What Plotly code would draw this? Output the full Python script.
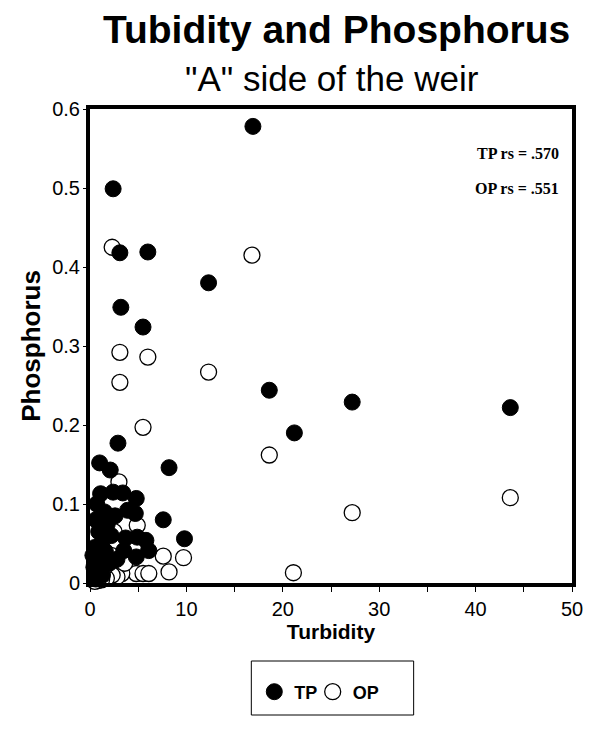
import plotly.graph_objects as go

# TP (total phosphorus) points: turbidity, phosphorus
tp_turbidity = [16.9, 2.4, 3.1, 6.0, 12.3, 3.2, 5.5,
                18.6, 27.2, 21.2, 43.6,
                2.9, 1.0, 2.1, 8.2,
                1.1, 2.4, 3.4, 4.8, 4.7, 3.9,
                7.6, 9.8, 3.7, 4.9, 5.8, 6.1, 4.8, 3.5,
                0.7, 0.6, 0.9, 0.5, 1.2, 0.8, 0.4, 1.5, 1.8, 1.6, 2.2, 2.6, 2.0, 1.3, 0.6, 0.3, 2.8, 1.0]
tp_phosphorus = [0.578, 0.499, 0.418, 0.419, 0.380, 0.349, 0.324,
                 0.244, 0.229, 0.190, 0.222,
                 0.177, 0.152, 0.143, 0.146,
                 0.113, 0.115, 0.114, 0.107, 0.088, 0.092,
                 0.080, 0.056, 0.057, 0.058, 0.054, 0.041, 0.033, 0.041,
                 0.100, 0.080, 0.065, 0.045, 0.050, 0.030, 0.020, 0.090, 0.075, 0.040, 0.060, 0.085, 0.025, 0.010, 0.005, 0.035, 0.030, 0.015]

# OP (orthophosphate) points
op_turbidity = [2.3, 16.8, 3.1, 6.0, 12.3, 3.1,
                18.6, 27.2, 43.6, 21.1,
                5.5, 3.0, 4.9, 7.6, 9.7, 8.2,
                4.8, 5.5, 6.1, 3.3, 2.8, 2.3, 1.7, 1.2, 0.8, 0.5,
                4.5, 2.2, 1.5, 3.6, 2.5, 1.0]
op_phosphorus = [0.425, 0.415, 0.292, 0.286, 0.267, 0.254,
                 0.162, 0.089, 0.108, 0.013,
                 0.197, 0.128, 0.073, 0.034, 0.032, 0.014,
                 0.012, 0.012, 0.012, 0.012, 0.008, 0.010, 0.006, 0.004, 0.003, 0.002,
                 0.045, 0.035, 0.020, 0.025, 0.065, 0.030]

x_ticks = [0, 10, 20, 30, 40, 50]
y_ticks = [0, 0.1, 0.2, 0.3, 0.4, 0.5, 0.6]
y_tick_labels = ["0", "0.1", "0.2", "0.3", "0.4", "0.5", "0.6"]

L, R, T, B = 90, 577, 109, 583
PW, PH = R - L, B - T

def px(xpix):
    return (xpix - L) / PW

def py(ypix):
    return (B - ypix) / PH

fig = go.Figure()
fig.add_trace(go.Scatter(
    x=op_turbidity, y=op_phosphorus, mode="markers", name="OP", legend="legend2",
    marker=dict(size=16, color="white", line=dict(color="black", width=1.3)),
    cliponaxis=False,
))
fig.add_trace(go.Scatter(
    x=tp_turbidity, y=tp_phosphorus, mode="markers", name="TP", legend="legend",
    marker=dict(size=16, color="black", line=dict(color="black", width=1)),
    cliponaxis=False,
))

legend_font = dict(size=18, family="Liberation Sans, Arial", color="black", weight="bold")

fig.update_layout(
    width=595, height=736,
    margin=dict(l=L, r=595 - R, t=T, b=736 - B),
    paper_bgcolor="white", plot_bgcolor="white",
    font=dict(family="Liberation Sans, Arial", color="black", size=20),
    showlegend=True,
    legend=dict(orientation="h", x=px(256), xanchor="left", y=py(692), yanchor="middle",
                font=legend_font, bgcolor="rgba(0,0,0,0)", borderwidth=0, itemwidth=30),
    legend2=dict(orientation="h", x=px(315), xanchor="left", y=py(692), yanchor="middle",
                 font=legend_font, bgcolor="rgba(0,0,0,0)", borderwidth=0, itemwidth=30),
    xaxis=dict(range=[0, 50], tickvals=x_ticks, ticktext=[str(v) for v in x_ticks],
               showgrid=False, zeroline=False, showline=True, linewidth=4, linecolor="black",
               mirror=True, ticks="outside", ticklen=5, tickwidth=1, tickcolor="black",
               minor=dict(dtick=5, ticks="outside", ticklen=5, tickcolor="black"),
               title=dict(text="<b>Turbidity</b>", font=dict(size=21), standoff=2),
               tickfont=dict(size=20)),
    yaxis=dict(range=[0, 0.6], tickvals=y_ticks, ticktext=y_tick_labels,
               showgrid=False, zeroline=False, showline=True, linewidth=4, linecolor="black",
               mirror=True, ticks="outside", ticklen=3, tickwidth=1, tickcolor="black",
               ticklabelstandoff=-1,
               title=dict(text="<b>Phosphorus</b>", font=dict(size=26), standoff=5),
               tickfont=dict(size=20)),
    shapes=[dict(type="rect", xref="paper", yref="paper",
                 x0=px(253), x1=px(417), y0=py(715), y1=py(661),
                 line=dict(color="black", width=1))],
    annotations=[
        dict(text="<b>Tubidity and Phosphorus</b>", xref="paper", yref="paper",
             x=px(339), y=py(30), xanchor="center", yanchor="middle",
             showarrow=False, font=dict(size=39, family="Liberation Sans, Arial")),
        dict(text="\"A\" side of the weir", xref="paper", yref="paper",
             x=px(335), y=py(78), xanchor="center", yanchor="middle",
             showarrow=False, font=dict(size=35, family="Liberation Sans, Arial")),
        dict(text="<b>TP rs = .570</b>", xref="paper", yref="paper",
             x=px(566), y=py(153), xanchor="right", yanchor="middle",
             showarrow=False, font=dict(size=16, family="Liberation Serif, Times New Roman")),
        dict(text="<b>OP rs = .551</b>", xref="paper", yref="paper",
             x=px(566), y=py(188), xanchor="right", yanchor="middle",
             showarrow=False, font=dict(size=16, family="Liberation Serif, Times New Roman")),
    ],
)

fig.write_html("out.html", post_script="document.body.style.margin='0';",
               config={"displayModeBar": False})
